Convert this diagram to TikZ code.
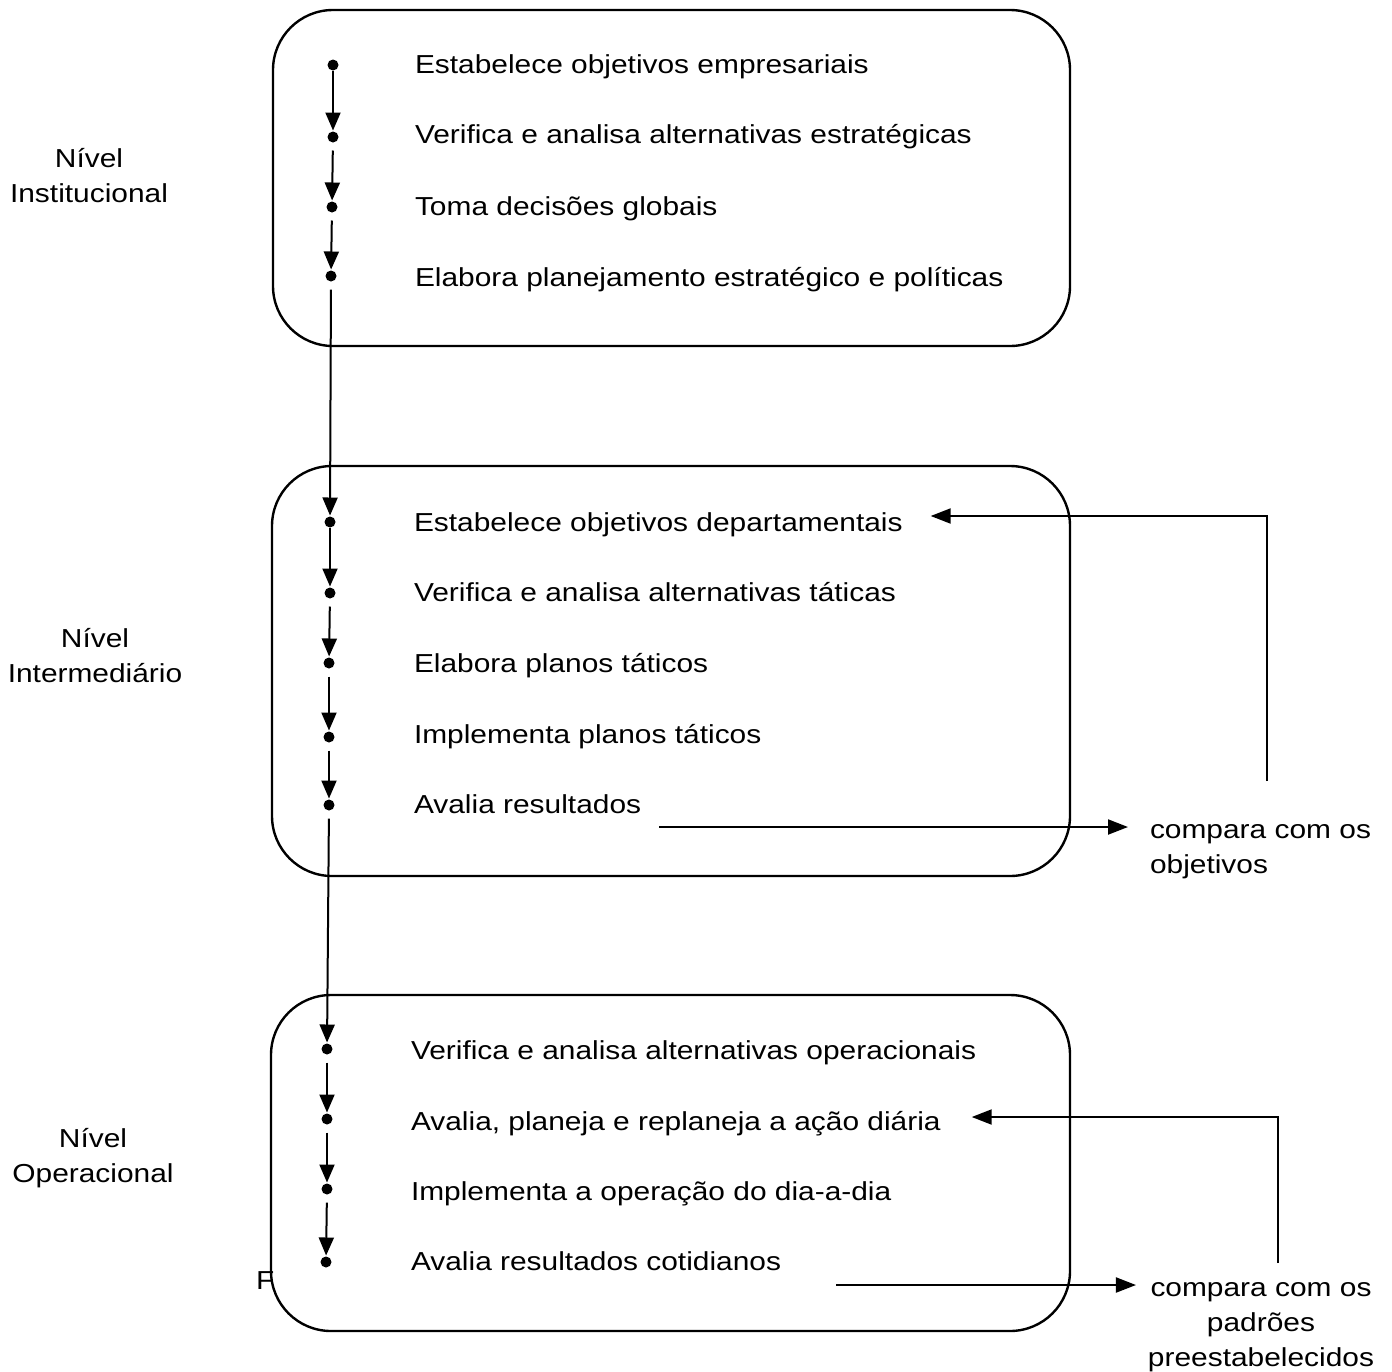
\documentclass[tikz,border=0pt]{standalone}
\usepackage{fontspec}
\setmainfont{Liberation Sans}[FakeStretch=1.15]
\usetikzlibrary{arrows.meta}
\begin{document}
\begin{tikzpicture}[x=0.5pt,y=-0.5pt,
  every node/.style={inner sep=0pt, outer sep=0pt},
  item/.style={font=\fontsize{13pt}{17.5pt}\selectfont, anchor=base west},
  level/.style={font=\fontsize{13pt}{17.5pt}\selectfont, align=center, anchor=base},
  levelbox/.style={draw, line width=1.2pt, rounded corners=30pt},
  dot/.style={circle, fill, minimum size=5.5pt},
  flow/.style={-{Triangle[width=7.5pt,length=9pt]}, line width=1pt, shorten <=4pt, shorten >=0.5pt},
  arr/.style={-{Triangle[width=7.5pt,length=10pt]}, line width=1pt},
]
\useasboundingbox (0,0) rectangle (1392,1371);

% stray letter partly behind the third box
\node[item] (stray) at (256,1289) {F};

% boxes
\node[levelbox, minimum width=398.5pt, minimum height=168pt] (b1) at (671.5,178) {};
\node[levelbox, minimum width=399pt, minimum height=205pt] (b2) at (671,671) {};
\node[levelbox, minimum width=399.5pt, minimum height=168pt] (b3) at (670.5,1163) {};

% level labels (anchor = baseline of last line)
\node[level] (l1) at (89,202) {Nível\\Institucional};
\node[level] (l2) at (95,682) {Nível\\Intermediário};
\node[level] (l3) at (93,1182) {Nível\\Operacional};

% box 1
\node[dot] (d11) at (333,65) {};
\node[dot] (d12) at (333,137) {};
\node[dot] (d13) at (332,207) {};
\node[dot] (d14) at (331,276) {};
\node[item] (e11) at (415,73) {Estabelece objetivos empresariais};
\node[item] (e12) at (415,143) {Verifica e analisa alternativas estratégicas};
\node[item] (e13) at (415,215) {Toma decisões globais};
\node[item] (e14) at (415,286) {Elabora planejamento estratégico e políticas};

% box 2
\node[dot] (d21) at (330,522) {};
\node[dot] (d22) at (330,593) {};
\node[dot] (d23) at (329,663) {};
\node[dot] (d24) at (329,737) {};
\node[dot] (d25) at (329,805) {};
\node[item] (e21) at (414,531) {Estabelece objetivos departamentais};
\node[item] (e22) at (414,601) {Verifica e analisa alternativas táticas};
\node[item] (e23) at (414,672) {Elabora planos táticos};
\node[item] (e24) at (414,743) {Implementa planos táticos};
\node[item] (e25) at (414,813) {Avalia resultados};

% box 3
\node[dot] (d31) at (327,1049) {};
\node[dot] (d32) at (327,1119) {};
\node[dot] (d33) at (327,1189) {};
\node[dot] (d34) at (326,1262) {};
\node[item] (e31) at (411,1059) {Verifica e analisa alternativas operacionais};
\node[item] (e32) at (411,1130) {Avalia, planeja e replaneja a ação diária};
\node[item] (e33) at (411,1200) {Implementa a operação do dia-a-dia};
\node[item] (e34) at (411,1270) {Avalia resultados cotidianos};

% comparison labels (anchor = baseline of last line)
\node[item, align=left] (c1) at (1150,873) {compara com os\\objetivos};
\node[level] (c2) at (1261,1366) {compara com os\\padrões\\preestabelecidos};

% flow arrows
\draw[flow, shorten <=0pt] (d11) -- (d12);
\draw[flow] (d12) -- (d13);
\draw[flow] (d13) -- (d14);
\draw[flow] (d14) -- (d21);
\draw[flow, shorten <=0pt] (d21) -- (d22);
\draw[flow] (d22) -- (d23);
\draw[flow] (d23) -- (d24);
\draw[flow] (d24) -- (d25);
\draw[flow] (d25) -- (d31);
\draw[flow] (d31) -- (d32);
\draw[flow] (d32) -- (d33);
\draw[flow] (d33) -- (d34);

% comparison arrows
\draw[arr, shorten >=11pt] ([xshift=9pt,yshift=-7pt]e25.base east) coordinate (s1) -- (s1 -| c1.west);
\draw[arr, shorten >=6pt] ([xshift=27.5pt,yshift=-7.5pt]e34.base east) coordinate (s2) -- (s2 -| c2.west);

% feedback arrows
\coordinate (fb1) at (1267,781);
\draw[arr] (fb1) |- ([xshift=14pt,yshift=7.5pt]e21.base east);
\coordinate (fb2) at (1278,1263);
\draw[arr] (fb2) |- ([xshift=15.5pt,yshift=6.5pt]e32.base east);
\end{tikzpicture}
\end{document}
